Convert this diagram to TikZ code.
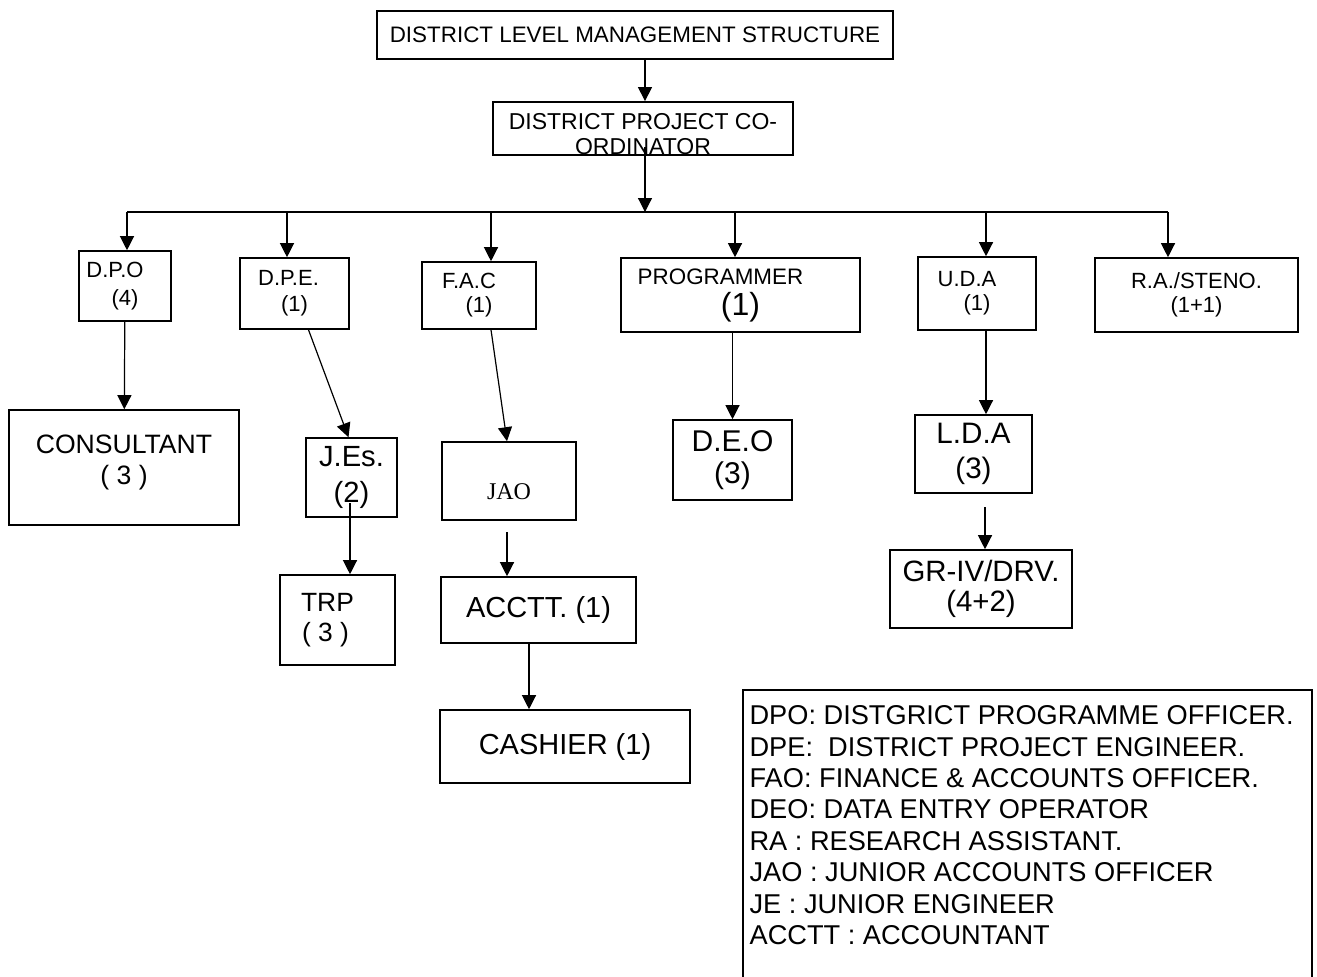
\documentclass[tikz,border=0pt]{standalone}
\usepackage{fontspec}
\setmainfont{Liberation Sans}
\newfontfamily\serifjao{Liberation Serif}
\usetikzlibrary{arrows.meta}

\begin{document}
\begin{tikzpicture}[x=0.5pt,y=-0.5pt,->,>={Triangle[length=7pt,width=7pt]},line width=0.6pt,
  post/.style={draw,line width=0.8pt,inner sep=0pt,align=center}]
\useasboundingbox (0,0) rectangle (1317,976);
\node[post,minimum width=258pt,minimum height=24pt,font=\fontsize{11.2}{13}\selectfont] (title) at (635,35) {DISTRICT LEVEL MANAGEMENT STRUCTURE};
\node[post,minimum width=150pt,minimum height=25.5pt,font=\fontsize{11.5}{12.5}\selectfont] (dpc) at (643,128.5) {\rule{0pt}{14pt}DISTRICT PROJECT CO-\\ORDINATOR};
\node[post,minimum width=46pt,minimum height=35pt,font=\fontsize{11}{14}\selectfont] (dpo) at (125,286) {D.P.O\hspace*{10pt}\\(4)};
\node[post,minimum width=54.5pt,minimum height=35.5pt,font=\fontsize{11}{13}\selectfont] (dpe) at (294.5,293.5) {D.P.E.\hspace*{6pt}\\(1)};
\node[post,minimum width=57pt,minimum height=33.5pt,font=\fontsize{11}{12}\selectfont] (fac) at (479,295.5) {F.A.C\hspace*{10pt}\\(1)};
\node[post,minimum width=119.5pt,minimum height=37pt,font=\fontsize{11.2}{15.5}\selectfont] (prog) at (740.5,295) {PROGRAMMER\hspace*{20pt}\\{\fontsize{16}{15.5}\selectfont(1)}};
\node[post,minimum width=59pt,minimum height=36.5pt,font=\fontsize{11}{12}\selectfont] (uda) at (977,293.5) {U.D.A\hspace*{10pt}\\(1)};
\node[post,minimum width=101.5pt,minimum height=37pt,font=\fontsize{11}{12}\selectfont] (ra) at (1196.5,295) {R.A./STENO.\\(1+1)};
\node[post,minimum width=115pt,minimum height=57.5pt,font=\fontsize{13.3}{15.5}\selectfont] (cons) at (124,467.5) {CONSULTANT\\( 3 )\rule[-8pt]{0pt}{0pt}};
\node[post,minimum width=45.5pt,minimum height=39.5pt,font=\fontsize{14.6}{18}\selectfont] (jes) at (351.5,477.5) {J.Es.\\(2)};
\node[post,minimum width=67pt,minimum height=39pt,font=\serifjao\fontsize{12}{14}\selectfont] (jao) at (509,481) {\rule{0pt}{19pt}JAO};
\node[post,minimum width=59.5pt,minimum height=40pt,font=\fontsize{15}{16}\selectfont] (deo) at (732.5,460) {D.E.O\\(3)};
\node[post,minimum width=58.5pt,minimum height=39pt,font=\fontsize{14.8}{17.5}\selectfont] (lda) at (973.5,454) {L.D.A\\(3)};
\node[post,minimum width=57.5pt,minimum height=45pt,font=\fontsize{13.2}{15}\selectfont] (trp) at (337.5,620) {TRP\hspace*{10pt}\\( 3 )\hspace*{12pt}};
\node[post,minimum width=97.5pt,minimum height=33pt,font=\fontsize{14.5}{16}\selectfont] (acctt) at (538.5,610) {ACCTT. (1)};
\node[post,minimum width=91pt,minimum height=39pt,font=\fontsize{14.7}{15}\selectfont] (gr) at (981,589) {GR-IV/DRV.\\(4+2)};
\node[post,minimum width=125pt,minimum height=36.5pt,font=\fontsize{14.5}{16}\selectfont] (cash) at (565,746.5) {CASHIER (1)};
\coordinate (bus) at (645,212);
\coordinate (b1) at (127,212);
\coordinate (b2) at (287,212);
\coordinate (b3) at (491,212);
\coordinate (b4) at (735,212);
\coordinate (b5) at (986,212);
\coordinate (b6) at (1168,212);
\coordinate (dpcout) at (645,147);
\coordinate (jesout) at (350,503);
\coordinate (jaogap) at (507,532);
\coordinate (accout) at (529,643);
\coordinate (ldagap) at (985,507);
\draw[-] (b1) -- (b6);
\path
  (title.south -| bus) edge (dpc.north -| bus)
  (dpcout) edge (bus)
  (b1) edge (b1 |- dpo.north)
  (b2) edge (b2 |- dpe.north)
  (b3) edge (b3 |- fac.north)
  (b4) edge (b4 |- prog.north)
  (b5) edge (b5 |- uda.north)
  (b6) edge (b6 |- ra.north)
  (dpo) edge (cons)
  ([xshift=7pt]dpe.south) edge ([xshift=-1.5pt]jes.north)
  (jesout) edge (jesout |- trp.north)
  ([xshift=6pt]fac.south) edge ([xshift=-1pt]jao.north)
  (jaogap) edge (jaogap |- acctt.north)
  (accout) edge (accout |- cash.north)
  (deo.north |- prog.south) edge (deo.north)
  (b5 |- uda.south) edge (b5 |- lda.north)
  (ldagap) edge (ldagap |- gr.north)
;
\coordinate (legSW) at (743,985);
\coordinate (legNE) at (1312,690);
\draw[-,line width=0.8pt] (legSW) |- (legNE) -- (legNE |- legSW);
\node[anchor=north west,inner sep=0pt,align=left,font=\fontsize{13.6}{15.7}\selectfont] (legend) at (749,705) {DPO: DISTGRICT PROGRAMME OFFICER.\\DPE:\ \ DISTRICT PROJECT ENGINEER.\\FAO: FINANCE \& ACCOUNTS OFFICER.\\DEO: DATA ENTRY OPERATOR\\RA : RESEARCH ASSISTANT.\\JAO : JUNIOR ACCOUNTS OFFICER\\JE : JUNIOR ENGINEER\\ACCTT : ACCOUNTANT};
\end{tikzpicture}
\end{document}
